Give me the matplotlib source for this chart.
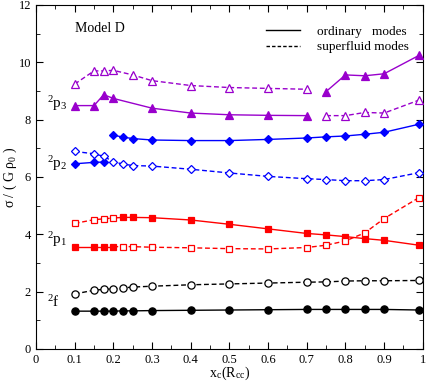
import matplotlib
matplotlib.use('Agg')
import matplotlib.pyplot as plt
import numpy as np
from matplotlib.ticker import MultipleLocator
from matplotlib.lines import Line2D

plt.rcParams['font.family'] = ['Liberation Serif', 'DejaVu Serif']
plt.rcParams['mathtext.fontset'] = 'stix'

x = [0.1, 0.15, 0.175, 0.2, 0.225, 0.25, 0.3, 0.4, 0.5, 0.6, 0.7, 0.75, 0.8, 0.85, 0.9, 0.99]

# 2f
f_ord = [1.32, 1.32, 1.32, 1.32, 1.33, 1.33, 1.34, 1.35, 1.36, 1.37, 1.38, 1.38, 1.38, 1.38, 1.38, 1.36]
f_sf = [1.92, 2.05, 2.08, 2.10, 2.13, 2.16, 2.19, 2.24, 2.27, 2.30, 2.33, 2.34, 2.37, 2.38, 2.38, 2.39]

# 2p1 (the two modes swap between x=0.2 and x=0.225)
p1_ord = [3.57, 3.57, 3.57, 3.57, 4.59, 4.59, 4.58, 4.50, 4.35, 4.19, 4.03, 3.98, 3.92, 3.85, 3.79, 3.62]
p1_sf = [4.38, 4.51, 4.54, 4.57, 3.57, 3.57, 3.55, 3.53, 3.50, 3.49, 3.54, 3.62, 3.77, 4.05, 4.55, 5.28]

# 2p2
p2_ord = [6.46, 6.51, 6.52, 7.46, 7.39, 7.34, 7.29, 7.27, 7.27, 7.31, 7.36, 7.40, 7.43, 7.49, 7.56, 7.84]
p2_sf = [6.89, 6.81, 6.72, 6.53, 6.45, 6.40, 6.38, 6.27, 6.14, 6.02, 5.94, 5.91, 5.87, 5.87, 5.91, 6.15]

# 2p3 (two branches each)
p3_x_a = [0.1, 0.15, 0.175, 0.2, 0.3, 0.4, 0.5, 0.6, 0.7]
p3_ord_a = [8.49, 8.49, 8.87, 8.74, 8.40, 8.23, 8.17, 8.15, 8.14]
p3_x_b = [0.75, 0.8, 0.85, 0.9, 0.99]
p3_ord_b = [8.98, 9.56, 9.53, 9.60, 10.24]
p3_sfx_a = [0.1, 0.15, 0.175, 0.2, 0.25, 0.3, 0.4, 0.5, 0.6, 0.7]
p3_sf_a = [9.24, 9.70, 9.70, 9.72, 9.56, 9.36, 9.19, 9.12, 9.09, 9.06]
p3_sf_b = [8.14, 8.14, 8.25, 8.23, 8.68]

purple = '#9900cc'
dash = (3.5, 2)

fig = plt.figure(figsize=(4.31, 3.82), dpi=100)
ax = fig.add_axes([0.0835, 0.0864, 0.8975, 0.9006])

def line(xs, ys, c, ls='-'):
    l, = ax.plot(xs, ys, color=c, lw=1.0)
    if ls == '--':
        l.set_dashes(dash)

def marks(xs, ys, c, m, filled, ms=5.5):
    ax.plot(xs, ys, ls='none', marker=m, ms=ms, mec=c, mew=0.9,
            mfc=c if filled else 'white', zorder=3)

# f
line(x, f_ord, 'black')
line(x, f_sf, 'black', '--')
marks(x, f_ord, 'black', 'o', True, 5.2)
marks(x, f_sf, 'black', 'o', False, 5.2)

# p1
line(x[:4], p1_ord[:4], 'red')
line([x[3]] + x[4:], [p1_sf[3]] + p1_ord[4:], 'red')
line(x[:4], p1_sf[:4], 'red', '--')
line([x[3]] + x[4:], [p1_ord[3]] + p1_sf[4:], 'red', '--')
marks(x, p1_ord, 'red', 's', True, 4.6)
marks(x, p1_sf, 'red', 's', False, 4.6)

# p2
line(x[:3], p2_ord[:3], 'blue')
line(x[3:], p2_ord[3:], 'blue')
line(x, p2_sf, 'blue', '--')
marks(x, p2_ord, 'blue', 'D', True, 4.0)
marks(x, p2_sf, 'blue', 'D', False, 4.0)

# p3
line(p3_x_a, p3_ord_a, purple)
line(p3_x_b, p3_ord_b, purple)
line(p3_sfx_a, p3_sf_a, purple, '--')
line(p3_x_b, p3_sf_b, purple, '--')
marks(p3_x_a, p3_ord_a, purple, '^', True, 5.5)
marks(p3_x_b, p3_ord_b, purple, '^', True, 5.5)
marks(p3_sfx_a, p3_sf_a, purple, '^', False, 5.5)
marks(p3_x_b, p3_sf_b, purple, '^', False, 5.5)

ax.set_xlim(0, 1)
ax.set_ylim(0, 12)
ax.set_xticks(np.arange(0, 1.01, 0.1))
ax.set_xticklabels(['0', '0.1', '0.2', '0.3', '0.4', '0.5', '0.6', '0.7', '0.8', '0.9', '1'])
ax.xaxis.set_minor_locator(MultipleLocator(0.05))
ax.yaxis.set_major_locator(MultipleLocator(2))
ax.yaxis.set_minor_locator(MultipleLocator(1))
ax.tick_params(which='both', direction='in', top=True, right=True, labelsize=9)
ax.tick_params(which='major', length=5)
ax.tick_params(which='minor', length=3)

ax.set_xlabel(r'x$_\mathregular{c}$(R$_\mathregular{cc}$)', fontsize=10, labelpad=-1)
ax.set_ylabel(r'$\mathregular{\sigma}$ / ( G $\mathregular{\rho_0}$ )', fontsize=10)
ax.yaxis.set_label_coords(-0.045, 0.5)

ax.text(0.1, 11.05, 'Model D', fontsize=10)
ax.text(0.028, 8.4, r'$\mathregular{^2p_3}$', fontsize=11)
ax.text(0.028, 6.3, r'$\mathregular{^2p_2}$', fontsize=11)
ax.text(0.028, 3.65, r'$\mathregular{^2p_1}$', fontsize=11)
ax.text(0.028, 1.45, r'$\mathregular{^2f}$', fontsize=11)

h1 = Line2D([], [], color='black', lw=1.0)
h2 = Line2D([], [], color='black', lw=1.0, dashes=(2.5, 1.5))
ax.legend([h1, h2], ['ordinary   modes', 'superfluid modes'], loc='upper right',
          bbox_to_anchor=(0.995, 0.975), frameon=False, fontsize=9.5,
          handlelength=2.6, handletextpad=1.3, labelspacing=0.25)

plt.savefig('out.png', dpi=100)
plt.close()
